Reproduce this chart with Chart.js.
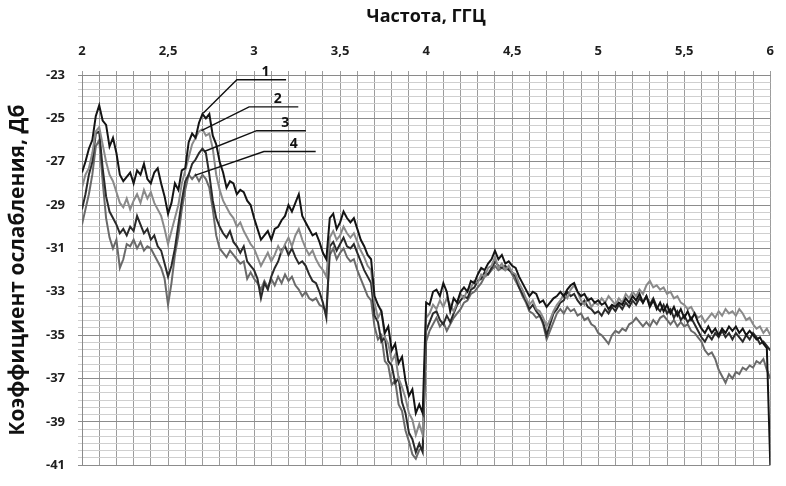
<!DOCTYPE html>
<html lang="ru">
<head>
<meta charset="utf-8">
<title>Коэффициент ослабления</title>
<script src="https://cdn.jsdelivr.net/npm/chart.js@4.4.1/dist/chart.umd.min.js"></script>
<style>
  html, body { margin: 0; padding: 0; background: #fff; }
  canvas { display: block; }
</style>
</head>
<body>
<canvas id="chart" width="786" height="486"></canvas>
<script>
// Frequency sweep 2–6 GHz, one sample every 0.02 GHz (201 samples)
const FREQ_START = 2;
const FREQ_STEP = 0.02;
const SAMPLE_COUNT = 201;
const frequencies = Array.from({ length: SAMPLE_COUNT }, (_, i) => Math.round((FREQ_START + i * FREQ_STEP) * 100) / 100);

// Attenuation, dB — one row per 0.1 GHz
const curve1 = [
  -27.5, -27.0, -26.4, -26.0, -24.9,
  -24.4, -25.1, -25.3, -26.3, -25.9,
  -26.6, -27.6, -27.9, -27.7, -27.5,
  -28.0, -27.4, -27.6, -27.1, -27.8,
  -28.0, -27.5, -27.3, -28.0, -28.6,
  -29.4, -28.9, -28.0, -28.3, -27.4,
  -27.3, -26.1, -25.7, -25.9, -25.2,
  -24.8, -25.0, -24.8, -25.8, -26.2,
  -27.0, -27.5, -28.2, -27.9, -28.0,
  -28.5, -28.3, -28.4, -28.8, -29.0,
  -29.6, -30.1, -30.6, -30.4, -30.2,
  -30.6, -30.1, -30.0, -29.7, -29.5,
  -29.0, -29.3, -28.9, -28.5, -29.5,
  -29.8, -30.1, -30.4, -30.3, -30.7,
  -31.2, -31.5, -29.6, -29.4, -30.1,
  -29.8, -29.3, -29.6, -29.8, -29.6,
  -30.1, -30.6, -30.9, -31.3, -31.5,
  -33.2, -33.6, -33.9, -34.9, -34.6,
  -35.7, -35.4, -36.3, -36.0, -37.1,
  -37.8, -37.5, -38.6, -38.2, -38.6,
  -33.5, -33.6, -33.0, -32.9, -33.2,
  -32.6, -33.0, -33.9, -33.3, -33.5,
  -33.0, -32.8, -33.0, -32.5, -32.6,
  -32.2, -31.9, -32.0, -31.7, -31.5,
  -31.1, -31.5, -31.3, -31.7, -31.6,
  -31.8, -31.9, -32.3, -32.6, -32.9,
  -33.2, -33.0, -33.1, -33.5, -33.4,
  -33.7, -33.5, -33.3, -33.2, -33.0,
  -33.2, -32.9, -32.7, -32.6, -33.0,
  -33.2, -33.1, -33.4, -33.3, -33.5,
  -33.4, -33.6, -33.5, -33.8, -33.6,
  -33.7, -33.5, -33.6, -33.3, -33.5,
  -33.2, -33.4, -33.1, -33.5, -33.2,
  -33.7, -33.4, -33.8, -33.5, -33.9,
  -33.6, -34.0, -33.7, -34.1, -33.8,
  -34.2, -33.9, -34.3, -34.0, -34.4,
  -34.7, -34.9, -34.6, -34.9, -34.7,
  -35.0, -34.7, -34.9, -34.6, -34.8,
  -34.6, -34.9, -34.7, -35.0, -34.8,
  -35.0, -35.2, -35.1, -35.4, -35.6,
  -41.0
];

const curve2 = [
  -28.2, -27.6, -27.3, -26.6, -25.6,
  -25.4, -26.2, -27.0, -27.6, -27.9,
  -28.4, -28.9, -29.1, -28.7, -29.2,
  -28.8, -28.5, -28.9, -28.3, -28.7,
  -28.4, -28.9, -29.2, -29.5, -30.1,
  -30.8, -30.2, -29.6, -29.0, -28.0,
  -27.4, -26.8, -26.2, -25.9, -25.6,
  -25.5, -25.8, -25.7, -26.4, -27.6,
  -28.3, -28.8, -29.1, -29.4, -29.6,
  -30.0, -29.8, -30.2, -30.5, -30.8,
  -31.0, -31.4, -31.8, -31.5, -31.2,
  -31.6, -31.3, -30.9, -31.2, -30.8,
  -30.5, -30.9, -30.4, -30.1, -30.6,
  -31.0, -31.3, -31.1, -31.5, -31.8,
  -32.0, -32.3, -30.5, -30.2, -30.6,
  -30.4, -30.0, -30.3, -30.5, -30.3,
  -30.7, -31.1, -31.4, -31.8, -32.0,
  -33.5, -34.2, -33.9, -35.1, -35.4,
  -36.2, -35.9, -37.0, -37.4, -37.9,
  -38.6, -38.9, -39.6, -39.1, -39.6,
  -34.2, -34.0, -33.6, -33.8, -33.4,
  -33.7, -33.3, -33.6, -33.9, -33.5,
  -33.1, -33.3, -32.9, -32.8, -32.5,
  -32.6, -32.2, -32.3, -31.9, -31.8,
  -31.4, -31.9, -31.7, -32.0, -31.8,
  -32.1, -32.2, -32.6, -32.9, -33.3,
  -33.6, -33.4, -33.8, -33.9, -34.2,
  -34.6, -34.3, -33.9, -33.6, -33.4,
  -33.1, -33.3, -32.9, -32.7, -33.0,
  -33.4, -33.6, -33.3, -33.7, -33.5,
  -33.6, -33.3, -33.5, -33.2, -33.4,
  -33.6, -33.3, -33.5, -33.1, -33.3,
  -33.0, -33.2, -32.9, -33.1, -32.7,
  -32.5, -32.8, -32.7, -32.9, -32.8,
  -33.1, -33.0, -33.3, -33.2, -33.5,
  -33.6, -33.8, -33.7, -34.0, -34.2,
  -34.1, -34.4, -34.2, -34.0, -34.2,
  -33.9, -34.1, -33.8, -34.0, -33.9,
  -34.1, -33.8, -34.0, -34.3, -34.2,
  -34.5, -34.7, -34.6, -34.9, -34.7,
  -35.0
];

const curve3 = [
  -29.2, -28.5, -27.6, -27.0, -25.7,
  -25.6, -27.3, -28.6, -29.3, -29.6,
  -29.9, -30.3, -30.1, -30.4, -30.0,
  -30.2, -29.5, -29.9, -30.3, -30.1,
  -30.6, -30.4, -30.9, -31.1, -31.7,
  -32.3, -31.8, -31.0, -29.9, -28.8,
  -27.9, -27.6, -27.1, -26.9, -26.6,
  -26.4, -26.6, -27.6, -28.8, -29.6,
  -30.0, -30.3, -30.5, -30.2, -30.7,
  -30.9, -31.2, -30.9, -31.6, -31.8,
  -32.0, -32.4, -33.3, -32.6, -32.9,
  -32.3, -31.9, -31.6, -31.1, -30.9,
  -31.3, -31.0, -31.4, -31.7, -31.6,
  -31.8, -32.2, -32.5, -32.6, -33.0,
  -33.5, -34.2, -30.9, -30.7, -31.1,
  -30.8, -30.5, -30.9, -31.0, -30.8,
  -31.2, -31.6, -32.0, -32.3, -32.6,
  -34.1, -34.4, -35.3, -35.1, -36.2,
  -36.4, -37.2, -37.0, -38.1, -38.6,
  -39.5, -39.8, -40.4, -40.0, -40.4,
  -34.8, -34.4, -34.0, -33.9, -34.3,
  -34.5, -34.1, -34.4, -34.0, -33.6,
  -33.4, -33.2, -33.3, -32.9, -32.8,
  -32.5, -32.4, -32.1, -32.2, -31.9,
  -31.6, -31.8, -31.9, -31.8, -32.0,
  -32.1, -32.3, -32.8, -33.1, -33.4,
  -33.8, -33.6, -33.9, -34.1, -34.4,
  -35.0, -34.5, -34.0, -33.8, -33.5,
  -33.4, -33.0, -33.2, -33.1, -33.4,
  -33.6, -33.4, -33.7, -33.8, -34.0,
  -33.9, -34.1, -33.8, -34.0, -33.7,
  -33.9, -33.6, -33.8, -33.5, -33.7,
  -33.4, -33.6, -33.3, -33.5, -33.2,
  -33.6, -33.3, -33.7, -33.9, -33.6,
  -34.0, -33.8, -34.2, -33.9, -34.3,
  -34.1, -34.4, -34.2, -34.5, -34.8,
  -35.1, -35.3, -35.0, -35.2, -34.9,
  -35.1, -34.8, -35.1, -34.9, -35.2,
  -34.9, -35.1, -35.3, -35.0, -35.2,
  -34.9, -35.1, -35.4, -35.3, -35.5,
  -35.7
];

const curve4 = [
  -29.9, -29.2, -28.5, -27.6, -26.3,
  -26.0, -27.9, -29.6, -30.5, -31.0,
  -30.6, -31.9, -31.5, -30.8, -30.9,
  -30.6, -31.0, -30.7, -31.1, -30.9,
  -31.0, -31.3, -31.6, -31.9, -32.4,
  -33.6, -32.6, -31.3, -30.4, -29.2,
  -28.3, -27.6, -27.8, -27.6, -27.9,
  -27.6, -27.8, -28.2, -29.2, -30.4,
  -31.0, -31.2, -31.4, -31.1, -31.3,
  -31.5, -31.7, -31.6, -32.4, -32.1,
  -32.4, -32.6, -32.9, -32.5, -32.8,
  -32.4, -32.7, -32.3, -32.6, -32.2,
  -32.5, -32.3, -32.7, -32.9, -33.2,
  -33.0, -33.3, -33.4, -33.3, -33.6,
  -33.7, -33.9, -31.3, -31.0, -31.5,
  -31.2, -31.0, -31.4, -31.6, -31.5,
  -32.0, -32.4, -32.8, -33.2, -33.4,
  -34.6, -35.2, -35.0, -36.2, -36.4,
  -37.3, -37.1, -38.2, -38.5, -39.4,
  -39.9, -40.5, -40.7, -40.3, -40.2,
  -35.3, -34.8, -34.5, -34.2, -34.6,
  -34.4, -34.8, -34.5, -34.2, -34.0,
  -33.8, -33.5, -33.4, -33.1, -33.0,
  -32.8, -32.6, -32.3, -32.2, -32.0,
  -31.8, -32.0, -31.9, -32.0, -31.9,
  -32.2, -32.5, -32.8, -33.2, -33.5,
  -33.9, -34.0, -34.2, -34.1, -34.5,
  -35.2, -34.8, -34.4, -34.0, -33.8,
  -34.0, -33.7, -33.9, -33.8, -34.1,
  -34.0, -34.3, -34.2, -34.5, -34.6,
  -34.9, -35.0, -35.2, -35.4, -35.0,
  -34.8, -34.9, -34.7, -34.8, -34.5,
  -34.4, -34.2, -34.4, -34.6, -34.4,
  -34.6, -34.3, -34.5, -34.2, -34.1,
  -34.3, -34.5, -34.3, -34.6, -34.4,
  -34.6, -34.5, -34.8, -34.9, -35.1,
  -35.3, -35.7, -35.9, -35.8, -36.1,
  -36.6, -36.9, -37.2, -36.8, -37.0,
  -36.7, -36.8, -36.5, -36.6, -36.4,
  -36.5, -36.2, -36.3, -36.1, -36.6,
  -37.0
];

const curveNames = ['1', '2', '3', '4'];
const curveColors = ['#141414', '#8a8a8a', '#2a2a2a', '#6a6a6a'];

// Axis ticks: frequency grid every 0.1 GHz, attenuation grid every 1/3 dB
const freqTicks = Array.from({ length: 41 }, (_, i) => Math.round((2 + i * 0.1) * 10) / 10);
const dbTicks = Array.from({ length: 55 }, (_, i) => Math.round((-41 + i / 3) * 1000) / 1000);

// Numbered callouts: tip on the curve, elbow, end of the shelf (GHz, dB)
const callouts = [
  { text: '1', tip: [2.704, -24.76], elbow: [2.90, -23.22], end: [3.186, -23.22] },
  { text: '2', tip: [2.694, -25.57], elbow: [2.971, -24.47], end: [3.257, -24.47] },
  { text: '3', tip: [2.710, -26.53], elbow: [3.015, -25.57], end: [3.301, -25.57] },
  { text: '4', tip: [2.656, -27.63], elbow: [3.057, -26.53], end: [3.358, -26.53] }
];

const isMajorDb = v => Number.isInteger(v) && Math.abs(v) % 2 === 1;

const calloutPlugin = {
  id: 'callouts',
  afterDatasetsDraw(chart) {
    const { ctx, scales: { x, y } } = chart;
    ctx.save();
    ctx.strokeStyle = '#111';
    ctx.lineWidth = 1.4;
    ctx.fillStyle = '#111';
    ctx.font = 'bold 14px "Open Sans", sans-serif';
    ctx.textAlign = 'center';
    ctx.textBaseline = 'bottom';
    callouts.forEach(c => {
      const px = p => [x.getPixelForValue(p[0]), y.getPixelForValue(p[1])];
      const [tx, ty] = px(c.tip), [ex, ey] = px(c.elbow), [nx, ny] = px(c.end);
      ctx.beginPath();
      ctx.moveTo(tx, ty);
      ctx.lineTo(ex, ey);
      ctx.lineTo(nx, ny);
      ctx.stroke();
      ctx.fillText(c.text, (ex + nx) / 2 + 4, ey - 1);
    });
    ctx.restore();
  }
};

const series = [curve1, curve2, curve3, curve4];

new Chart(document.getElementById('chart'), {
  type: 'line',
  data: {
    datasets: series.map((vals, k) => ({
      label: curveNames[k],
      data: vals.map((v, i) => ({ x: frequencies[i], y: v })),
      borderColor: curveColors[k],
      borderWidth: 2,
      pointRadius: 0,
      tension: 0,
      fill: false
    }))
  },
  options: {
    responsive: false,
    devicePixelRatio: 1,
    animation: false,
    layout: { padding: { left: 0, top: 0, right: 5, bottom: 3 } },
    plugins: { legend: { display: false }, tooltip: { enabled: false } },
    scales: {
      x: {
        type: 'linear',
        position: 'top',
        min: 2,
        max: 6,
        afterBuildTicks: s => { s.ticks = freqTicks.map(v => ({ value: v })); },
        afterFit: s => { s.height = 75; },
        ticks: {
          autoSkip: false,
          maxRotation: 0,
          padding: 12,
          color: '#1e1e1e',
          font: { family: '"Open Sans", sans-serif', size: 13, weight: 'bold' },
          callback: v => {
            const r = Math.round(v * 10) / 10;
            return Math.abs(r * 2 - Math.round(r * 2)) < 1e-6 ? String(r).replace('.', ',') : '';
          }
        },
        grid: { color: '#9c9c9c', lineWidth: 1, tickLength: 4, drawTicks: true },
        border: { color: '#8a8a8a' },
        title: {
          display: true,
          text: 'Частота, ГГЦ',
          color: '#111',
          font: { family: '"Open Sans", sans-serif', size: 18, weight: 'bold' },
          padding: { top: 6, bottom: 0 }
        }
      },
      y: {
        type: 'linear',
        min: -41,
        max: -23,
        afterBuildTicks: s => { s.ticks = dbTicks.map(v => ({ value: v })); },
        afterFit: s => { s.width = 82; },
        ticks: {
          autoSkip: false,
          padding: 13,
          color: '#1e1e1e',
          font: { family: '"Open Sans", sans-serif', size: 13, weight: 'bold' },
          callback: v => {
            const r = Math.round(v * 1000) / 1000;
            return isMajorDb(r) ? String(r) : '';
          }
        },
        grid: {
          tickLength: 4,
          color: c => isMajorDb(Math.round(c.tick.value * 1000) / 1000) ? '#8c8c8c' : '#cfcfcf',
          lineWidth: 1
        },
        border: { color: '#8a8a8a' },
        title: {
          display: true,
          text: 'Коэффициент ослабления, Дб',
          color: '#111',
          font: { family: '"Open Sans", sans-serif', size: 21, weight: 'bold' },
          padding: { top: 5, bottom: 0 }
        }
      }
    }
  },
  plugins: [calloutPlugin]
});
</script>
</body>
</html>
